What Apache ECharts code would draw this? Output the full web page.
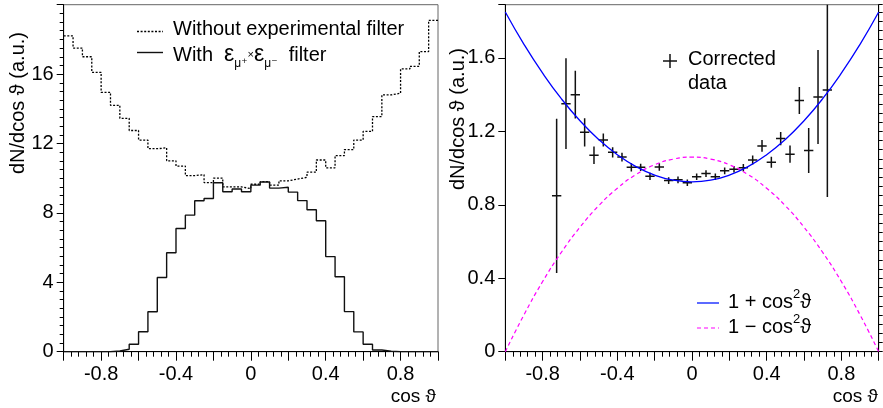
<!DOCTYPE html>
<html>
<head>
<meta charset="utf-8">
<title>cos theta distributions</title>
<script src="https://cdn.jsdelivr.net/npm/echarts/dist/echarts.min.js"></script>
<style>
  html, body { margin: 0; padding: 0; background: #fff; }
  #chart { width: 883px; height: 408px; }
</style>
</head>
<body>
<div id="chart"></div>
<script>
// histogram binning of the left pad (40 bins from -1 to 1)
const cosMin = -1;
const binWidth = 0.05;

// left pad: generated distribution, without / with the muon filter
const withoutFilter = [18.2, 17.5, 17.0, 16.1, 14.95, 14.2, 13.45, 12.75, 12.2, 11.7,
  11.75, 11.0, 10.7, 10.15, 10.2, 9.75, 10.0, 9.5, 9.5, 9.4,
  9.65, 9.8, 9.6, 9.85, 9.95, 10.05, 10.35, 11.05, 10.6, 11.3,
  11.65, 12.2, 12.7, 13.55, 14.8, 14.9, 16.3, 16.45, 17.3, 19.1];
const withFilter = [0, 0, 0, 0, 0, 0.04, 0.14, 0.43, 1.15, 2.3,
  4.28, 5.7, 7.1, 7.87, 8.7, 8.83, 9.74, 9.22, 9.38, 9.22,
  9.6, 9.78, 9.43, 9.48, 9.2, 8.71, 8.18, 7.55, 5.48, 4.32,
  2.31, 1.14, 0.43, 0.1, 0.03, 0, 0, 0, 0, 0];

// right pad: corrected data points (bin centre, value, error)
const dataCos = [-0.725, -0.675, -0.625, -0.575, -0.525, -0.475, -0.425, -0.375, -0.325, -0.275,
  -0.225, -0.175, -0.125, -0.075, -0.025, 0.025, 0.075, 0.125, 0.175, 0.225,
  0.275, 0.325, 0.375, 0.425, 0.475, 0.525, 0.575, 0.625, 0.675, 0.725];
const dataVal = [0.849, 1.351, 1.40, 1.195, 1.07, 1.153, 1.086, 1.06, 1.004, 1.004,
  0.955, 1.006, 0.932, 0.936, 0.92, 0.953, 0.97, 0.953, 0.985, 0.994,
  1.002, 1.044, 1.121, 1.032, 1.161, 1.076, 1.368, 1.096, 1.387, 1.425];
const dataErr = [0.42, 0.247, 0.13, 0.077, 0.048, 0.036, 0.028, 0.024, 0.022, 0.02,
  0.02, 0.02, 0.018, 0.018, 0.018, 0.018, 0.018, 0.018, 0.018, 0.018,
  0.02, 0.025, 0.032, 0.03, 0.036, 0.047, 0.074, 0.123, 0.256, 0.583];

// right pad: the two reference curves
const curveCos = [-1, -0.9, -0.8, -0.7, -0.6, -0.5, -0.4, -0.3, -0.2, -0.1, 0,
  0.1, 0.2, 0.3, 0.4, 0.5, 0.6, 0.7, 0.8, 0.9, 1];
const onePlusCos2 = [1.85, 1.674, 1.517, 1.378, 1.258, 1.156, 1.073, 1.008, 0.962, 0.934, 0.925,
  0.934, 0.962, 1.008, 1.073, 1.156, 1.258, 1.378, 1.517, 1.674, 1.85];
const oneMinusCos2 = [0, 0.201, 0.382, 0.541, 0.678, 0.795, 0.89, 0.965, 1.018, 1.049, 1.06,
  1.049, 1.018, 0.965, 0.89, 0.795, 0.678, 0.541, 0.382, 0.201, 0];

const FONT = "'Liberation Sans', Arial, Helvetica, 'DejaVu Sans', sans-serif";
const FS = 20;

// histogram outline points: left edge of each bin + closing right edge
function histPoints(vals) {
  const pts = vals.map((v, i) => [cosMin + i * binWidth, v]);
  pts.push([cosMin + vals.length * binWidth, vals[vals.length - 1]]);
  return pts;
}

function cosLabel(v) {
  if (Math.abs(v) > 0.99) return '';
  const r = Math.round(v * 10);
  if (r % 4 !== 0) return '';
  return r === 0 ? '0' : (r / 10).toFixed(1);
}

function xAxisFor(gridIndex) {
  return {
    type: 'value', gridIndex: gridIndex, min: -1, max: 1, interval: 0.2,
    axisLine: { show: true, onZero: false, lineStyle: { color: '#000', width: 1 } },
    axisTick: { show: true, length: 9, lineStyle: { color: '#000' } },
    minorTick: { show: true, splitNumber: 5, length: 5, lineStyle: { color: '#000' } },
    splitLine: { show: false },
    axisLabel: { formatter: cosLabel, color: '#000', fontSize: FS, fontFamily: FONT, margin: 13 }
  };
}

const yAxisCommon = {
  type: 'value', min: 0,
  axisLine: { show: true, onZero: false, lineStyle: { color: '#000', width: 1 } },
  splitLine: { show: false }
};

function renderErrorBar(params, api) {
  const x = api.value(0), y = api.value(1), e = api.value(2);
  const top = api.coord([x, y + e]);
  const bot = api.coord([x, y - e]);
  const lft = api.coord([x - binWidth / 2, y]);
  const rgt = api.coord([x + binWidth / 2, y]);
  const style = { stroke: '#111', lineWidth: 1.5 };
  return {
    type: 'group',
    children: [
      { type: 'line', shape: { x1: top[0], y1: top[1], x2: bot[0], y2: bot[1] }, style: style },
      { type: 'line', shape: { x1: lft[0], y1: lft[1], x2: rgt[0], y2: rgt[1] }, style: style }
    ]
  };
}

const chart = echarts.init(document.getElementById('chart'), null, { renderer: 'canvas' });

const option = {
  animation: false,
  backgroundColor: '#fff',
  grid: [
    { left: 63.7, top: 4.7, width: 374.3, height: 347, show: true, borderColor: '#666', borderWidth: 1, backgroundColor: 'transparent' },
    { left: 505.3, top: 4.7, width: 373.4, height: 347, show: true, borderColor: '#666', borderWidth: 1, backgroundColor: 'transparent' }
  ],
  xAxis: [xAxisFor(0), xAxisFor(1)],
  yAxis: [
    Object.assign({}, yAxisCommon, {
      gridIndex: 0, max: 20, interval: 4,
      axisTick: { show: true, length: 7, lineStyle: { color: '#000' } },
      minorTick: { show: true, splitNumber: 8, length: 4, lineStyle: { color: '#000' } },
      axisLabel: { formatter: v => (v >= 20 ? '' : String(v)), color: '#000', fontSize: FS, fontFamily: FONT, margin: 10 }
    }),
    Object.assign({}, yAxisCommon, {
      gridIndex: 1, max: 1.89, interval: 0.4,
      axisTick: { show: true, length: 7, lineStyle: { color: '#000' } },
      axisLabel: {
        formatter: v => { const r = Math.round(v * 10); return (r % 4 === 0 && Math.abs(v * 10 - r) < 1e-6) ? (r === 0 ? '0' : (r / 10).toFixed(1)) : ''; },
        color: '#000', fontSize: FS, fontFamily: FONT, margin: 10
      }
    }),
    Object.assign({}, yAxisCommon, {
      gridIndex: 1, max: 1.89, interval: 0.05,
      axisTick: { show: true, length: 4, lineStyle: { color: '#000' } },
      axisLabel: { show: false }
    })
  ],
  series: [
    {
      name: 'Without experimental filter', type: 'line', xAxisIndex: 0, yAxisIndex: 0,
      step: 'end', symbol: 'none', data: histPoints(withoutFilter),
      lineStyle: { color: '#000', width: 1.3, type: [2, 1.6] }
    },
    {
      name: 'With filter', type: 'line', xAxisIndex: 0, yAxisIndex: 0,
      step: 'end', symbol: 'none', data: histPoints(withFilter),
      lineStyle: { color: '#111', width: 1.4 }
    },
    {
      name: '1 - cos2', type: 'line', xAxisIndex: 1, yAxisIndex: 1, smooth: true,
      symbol: 'none', data: curveCos.map((c, i) => [c, oneMinusCos2[i]]),
      lineStyle: { color: '#ff00ff', width: 1.2, type: [4, 3] }
    },
    {
      name: '1 + cos2', type: 'line', xAxisIndex: 1, yAxisIndex: 1, smooth: true,
      symbol: 'none', data: curveCos.map((c, i) => [c, onePlusCos2[i]]),
      lineStyle: { color: '#0000ff', width: 1.3 }
    },
    {
      name: 'Corrected data', type: 'custom', xAxisIndex: 1, yAxisIndex: 1, clip: true,
      renderItem: renderErrorBar,
      encode: { x: 0, y: 1 },
      data: dataCos.map((c, i) => [c, dataVal[i], dataErr[i]])
    }
  ],
  graphic: [
    // axis titles
    { type: 'text', x: 18, y: 32, rotation: Math.PI / 2,
      style: { text: 'dN/dcos ϑ (a.u.)', fontSize: FS, fontFamily: FONT, fill: '#000', align: 'right', verticalAlign: 'middle' } },
    { type: 'text', x: 458.5, y: 48, rotation: Math.PI / 2,
      style: { text: 'dN/dcos ϑ (a.u.)', fontSize: FS, fontFamily: FONT, fill: '#000', align: 'right', verticalAlign: 'middle' } },
    { type: 'text', x: 436, y: 397,
      style: { text: 'cos ϑ', fontSize: 19, fontFamily: FONT, fill: '#000', align: 'right', verticalAlign: 'middle' } },
    { type: 'text', x: 878, y: 397,
      style: { text: 'cos ϑ', fontSize: 19, fontFamily: FONT, fill: '#000', align: 'right', verticalAlign: 'middle' } },

    // left legend
    { type: 'line', shape: { x1: 137, y1: 31.5, x2: 163, y2: 31.5 }, style: { stroke: '#000', lineWidth: 1.3, lineDash: [2, 1.6] } },
    { type: 'text', x: 173, y: 29,
      style: { text: 'Without experimental filter', fontSize: FS, fontFamily: FONT, fill: '#000', align: 'left', verticalAlign: 'middle' } },
    { type: 'line', shape: { x1: 137, y1: 52.5, x2: 163, y2: 52.5 }, style: { stroke: '#111', lineWidth: 1.4 } },
    { type: 'text', x: 173, y: 55,
      style: {
        text: '{n|With  }{e|ε}{s|μ⁺}{x|×}{e|ε}{s|μ⁻}{n|  filter}',
        fontSize: FS, fontFamily: FONT, fill: '#000', align: 'left', verticalAlign: 'middle',
        rich: {
          n: { fontSize: FS, fontFamily: FONT, lineHeight: 30, verticalAlign: 'middle' },
          e: { fontSize: 23, fontFamily: FONT, lineHeight: 30, verticalAlign: 'middle' },
          s: { fontSize: 12, fontFamily: FONT, lineHeight: 12, verticalAlign: 'bottom' },
          x: { fontSize: 11, fontFamily: FONT, lineHeight: 30, verticalAlign: 'middle' }
        }
      } },

    // right legend: data marker
    { type: 'line', shape: { x1: 663, y1: 61, x2: 677, y2: 61 }, style: { stroke: '#111', lineWidth: 1.5 } },
    { type: 'line', shape: { x1: 670, y1: 54, x2: 670, y2: 68 }, style: { stroke: '#111', lineWidth: 1.5 } },
    { type: 'text', x: 688, y: 59,
      style: { text: 'Corrected', fontSize: FS, fontFamily: FONT, fill: '#000', align: 'left', verticalAlign: 'middle' } },
    { type: 'text', x: 688, y: 83,
      style: { text: 'data', fontSize: FS, fontFamily: FONT, fill: '#000', align: 'left', verticalAlign: 'middle' } },

    // right legend: curves
    { type: 'line', shape: { x1: 697, y1: 303, x2: 719, y2: 303 }, style: { stroke: '#3344ff', lineWidth: 1.6 } },
    { type: 'text', x: 728, y: 302,
      style: {
        text: '{n|1 + cos}{p|2}{n|ϑ}', fontSize: FS, fontFamily: FONT, fill: '#000', align: 'left', verticalAlign: 'middle',
        rich: {
          n: { fontSize: FS, fontFamily: FONT, lineHeight: 28, verticalAlign: 'middle' },
          p: { fontSize: 13, fontFamily: FONT, lineHeight: 13, verticalAlign: 'top' }
        }
      } },
    { type: 'line', shape: { x1: 697, y1: 328, x2: 719, y2: 328 }, style: { stroke: '#ff00ff', lineWidth: 1.2, lineDash: [4, 3] } },
    { type: 'text', x: 728, y: 327,
      style: {
        text: '{n|1 − cos}{p|2}{n|ϑ}', fontSize: FS, fontFamily: FONT, fill: '#000', align: 'left', verticalAlign: 'middle',
        rich: {
          n: { fontSize: FS, fontFamily: FONT, lineHeight: 28, verticalAlign: 'middle' },
          p: { fontSize: 13, fontFamily: FONT, lineHeight: 13, verticalAlign: 'top' }
        }
      } }
  ]
};

chart.setOption(option);
window.addEventListener('resize', () => chart.resize());
</script>
</body>
</html>
